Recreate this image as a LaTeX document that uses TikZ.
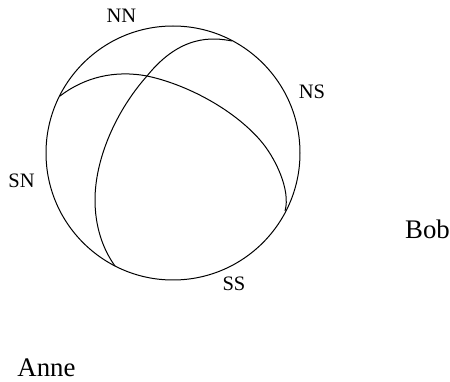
\documentclass[tikz,border=0pt]{standalone}
\usepackage{fontspec}
\setmainfont{Liberation Serif}
\tikzset{
  arcline/.style={line width=1pt,black},
  small/.style={font=\fontsize{20.5}{20.5}\selectfont,inner sep=0pt,anchor=center},
  large/.style={font=\fontsize{26.8}{26.8}\selectfont,inner sep=0pt,anchor=center}
}
\begin{document}
\begin{tikzpicture}[x=1pt,y=-1pt]
\useasboundingbox (0,0) rectangle (450,382);
\draw[arcline] (173,153) circle[radius=127];
\coordinate (a) at (60,96);
\coordinate (x) at (147,76);
\coordinate (m) at (260,140);
\coordinate (b) at (285,211);
\coordinate (c) at (232,41);
\coordinate (d) at (115,266);
\draw[arcline] (a) .. controls (85,77) and (115,70) .. (x)
  .. controls (185,84) and (232,108) .. (m)
  .. controls (275,157) and (291,190) .. (b);
\draw[arcline] (c) .. controls (212,37) and (180,35) .. (x)
  .. controls (115,112) and (95,160) .. (95,200)
  .. controls (95,225) and (102,248) .. (d);
\node[small] (nn) at (121.5,16) {NN};
\node[small] (ns) at (312,92) {NS};
\node[small] (sn) at (21.5,181) {SN};
\node[small] (ss) at (234,284) {SS};
\node[large] (bob) at (427.5,229.5) {Bob};
\node[large] (anne) at (46.5,368) {Anne};
\end{tikzpicture}
\end{document}
